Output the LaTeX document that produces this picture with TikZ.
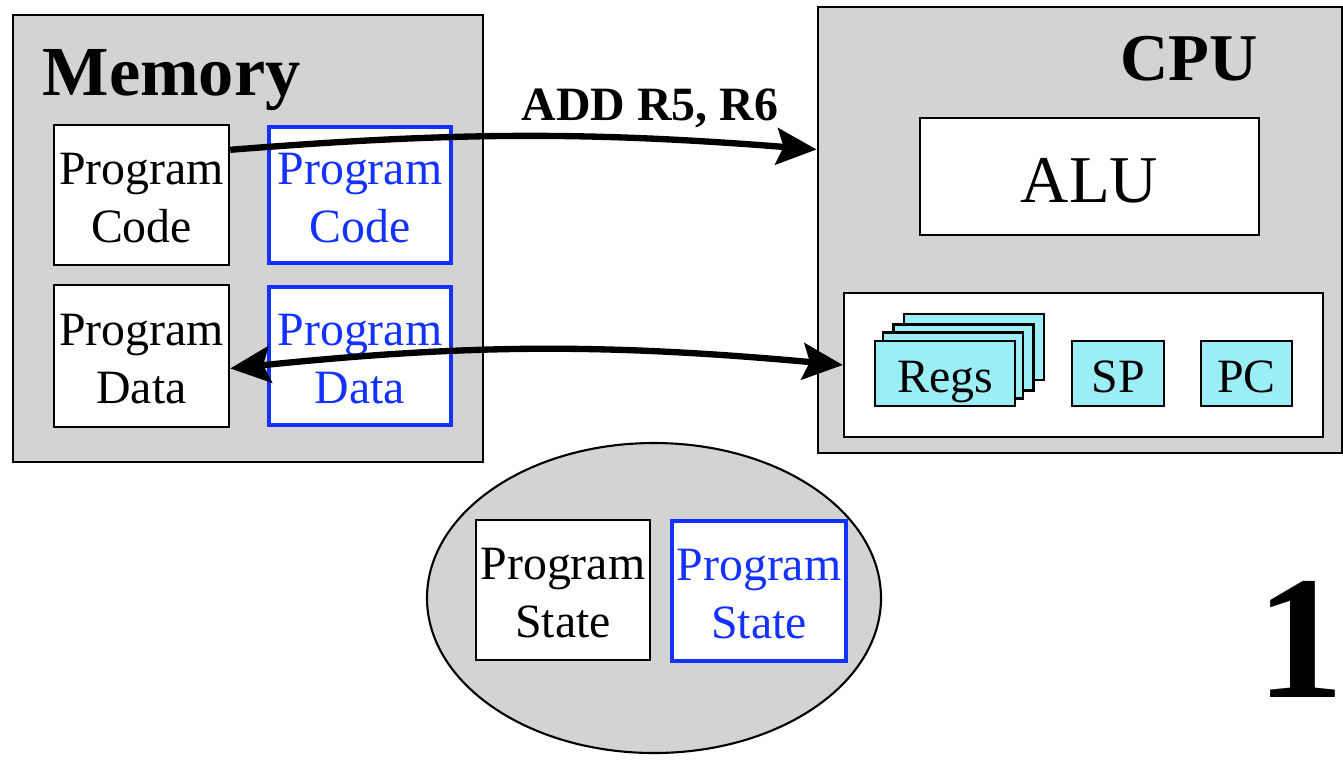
\documentclass[tikz,border=0pt]{standalone}
\usepackage{fontspec}
\setmainfont{Liberation Serif}
\usetikzlibrary{arrows.meta,shapes.geometric}

\definecolor{panelgray}{RGB}{211,211,211}
\definecolor{progblue}{RGB}{20,50,255}
\definecolor{regcyan}{RGB}{155,238,245}

\tikzset{
	wh/.style 2 args={minimum width=#1*0.01cm, minimum height=#2*0.01cm},
	panel/.style={draw, fill=panelgray, line width=0.8pt, inner sep=0pt},
	plainbox/.style={draw, fill=white, line width=0.7pt, inner sep=0pt, align=center,
		text height=26.8pt, text depth=0pt, font=\fontsize{13.6}{16.3}\selectfont},
	bluebox/.style={plainbox, draw=progblue, text=progblue, line width=1.4pt},
	regbox/.style={draw, fill=regcyan, line width=0.7pt, inner sep=0pt,
		text height=10.6pt, text depth=0pt, font=\fontsize{13.6}{16}\selectfont},
	title/.style={anchor=base west, inner sep=0pt, font=\fontsize{20}{24}\bfseries\selectfont},
	bighead/.tip={Stealth[length=11.4pt, width=10.4pt, inset=2pt]},
	flow/.style={line width=1.8pt, -bighead},
}

\begin{document}
\begin{tikzpicture}[x=0.01cm, y=-0.01cm]
	\useasboundingbox (0,0) rectangle (1343,766);
	
	% memory side
	\node[panel, wh={470}{447}] (memory) at (248,238.5) {};
	\node[title] (memtitle) at (42,95) {Memory};
	\node[plainbox, wh={175}{140}] (pcode) at (141.5,195) {Program\\Code};
	\node[bluebox, wh={182}{136}] (pcodeb) at (360,195) {Program\\Code};
	\node[plainbox, wh={175}{142}] (pdata) at (141.5,356) {Program\\Data};
	\node[bluebox, wh={182}{138}] (pdatab) at (360,356) {Program\\Data};
	
	% cpu side
	\node[panel, wh={524}{446}] (cpu) at (1080,230) {};
	\node[title, font=\fontsize{19}{23}\bfseries\selectfont] (cputitle) at (1120,80) {CPU};
	\node[plainbox, wh={339}{117}, text height=14.9pt,
		font=\fontsize{19}{23}\selectfont] (alu) at (1089.5,176.5) {ALU};
	\node[plainbox, wh={479}{144}] (inner) at (1083.5,365) {};
	
	\node[regbox, wh={140}{66}] (regs3) at (974,347) {};
	\node[regbox, wh={140}{66}] (regs2) at (963.5,357.5) {};
	\node[regbox, wh={140}{66}] (regs1) at (953,365.5) {};
	\node[regbox, wh={140}{65}] (regs) at (945,373.5) {Regs};
	\node[regbox, wh={92}{65}] (sp) at (1118,373.5) {SP};
	\node[regbox, wh={91}{65}] (pc) at (1246.5,373.5) {PC};
	
	% program state
	\node[ellipse, draw, fill=panelgray, line width=0.6pt, wh={454}{310}] (state) at (654,598) {};
	\node[plainbox, wh={174}{140}] (pstate) at (563,590) {Program\\State};
	\node[bluebox, wh={174}{140}] (pstateb) at (759,591) {Program\\State};
	
	\node[anchor=base, inner sep=0pt, font=\fontsize{13.6}{16}\bfseries\selectfont] (instr) at (650,120) {ADD R5, R6};
	\node[anchor=base, inner sep=0pt, font=\fontsize{50}{60}\bfseries\selectfont] (step) at (1300,697) {1};
	
	% connectors
	\draw[flow] (pcode.27) to[bend left=4.5] (cpu.163);
	\draw[flow, bighead-bighead] (pdata.-8) to[bend left=5.5] (inner.west);
\end{tikzpicture}
\end{document}
